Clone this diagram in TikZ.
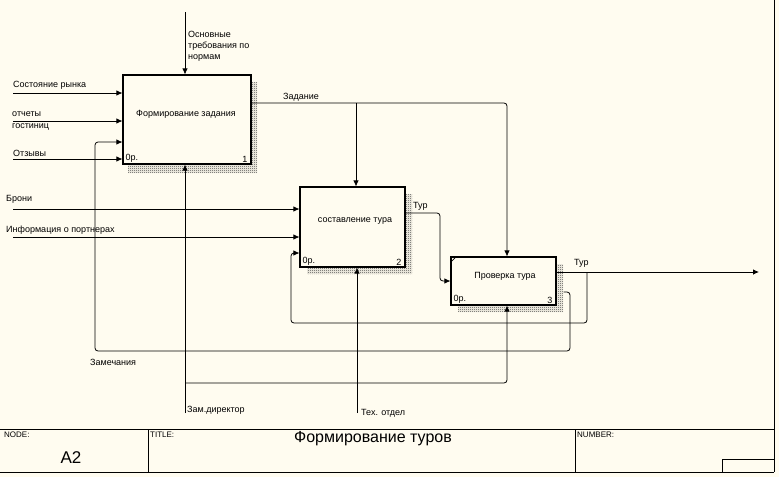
\documentclass[tikz,border=0pt]{standalone}
\usepackage{fontspec}
\setmainfont{Liberation Sans}
\usetikzlibrary{arrows.meta,patterns,patterns.meta,calc}
\definecolor{bg}{RGB}{255,252,240}
\pgfdeclarepattern{
  name=checkdots,
  type=uncolored,
  bottom left={\pgfpointorigin},
  top right={\pgfpoint{2pt}{2pt}},
  tile size={\pgfpoint{2pt}{2pt}},
  code={
    \pgfpathrectangle{\pgfpointorigin}{\pgfpoint{1pt}{1pt}}
    \pgfpathrectangle{\pgfpoint{1pt}{1pt}}{\pgfpoint{1pt}{1pt}}
    \pgfusepath{fill}
  }
}
\begin{document}
\begin{tikzpicture}[x=1pt,y=-1pt,
  box/.style={draw,line width=1.1pt,fill=bg,inner sep=0pt},
  shadowfill/.style={pattern=checkdots,pattern color=black!75},
  arr/.style={line width=0.8pt,-{Latex[length=6pt,width=5.5pt]},rounded corners=3pt},
  lbl/.style={font=\fontsize{9}{11}\selectfont,inner sep=0pt},
  frm/.style={line width=0.8pt}]
\fill[bg] (0,0) rectangle (779,477);
\useasboundingbox (0,0) rectangle (779,477);

% shadows
\fill[shadowfill] (251,82) -- (257,82) -- (257,173) -- (128,173) -- (128,164) -- (251,164) -- cycle;
\fill[shadowfill] (405,194) -- (412,194) -- (412,274) -- (307,274) -- (307,267) -- (405,267) -- cycle;
\fill[shadowfill] (556,264) -- (563,264) -- (563,312) -- (458,312) -- (458,305) -- (556,305) -- cycle;

% boxes
\node[box,minimum width=128pt,minimum height=89pt] (b1) at (187,119.5) {};
\node[box,minimum width=105pt,minimum height=80pt] (b2) at (352.5,227) {};
\node[box,minimum width=105pt,minimum height=48pt] (b3) at (503.5,281) {};
\draw[line width=0.6pt] ($(b3.north west)+(0,6)$) -- ($(b3.north west)+(6,0)$);

\node[lbl] (t1) at (186,114) {Формирование задания};
\node[lbl] (t2) at (355,221) {составление тура};
\node[lbl] (t3) at (505,276) {Проверка тура};
\node[lbl,anchor=south west] (n1) at ($(b1.south west)+(3,-2)$) {0р.};
\node[lbl,anchor=south east] (k1) at ($(b1.south east)+(-4,-2)$) {1};
\node[lbl,anchor=south west] (n2) at ($(b2.south west)+(3,-2)$) {0р.};
\node[lbl,anchor=south east] (k2) at ($(b2.south east)+(-4,-2)$) {2};
\node[lbl,anchor=south west] (n3) at ($(b3.south west)+(3,-2)$) {0р.};
\node[lbl,anchor=south east] (k3) at ($(b3.south east)+(-4,-2)$) {3};

% control
\coordinate (c1) at (185,12);
\draw[arr] (c1) -- (c1 |- b1.north);
\node[lbl,anchor=north west,align=left] (lc1) at (188,31) {Основные\\требования по\\нормам};

% inputs box 1
\coordinate (i1) at (13,93);
\coordinate (i2) at (13,121);
\coordinate (i3) at (13,159);
\draw[arr] (i1) -- (i1 -| b1.west);
\draw[arr] (i2) -- (i2 -| b1.west);
\draw[arr] (i3) -- (i3 -| b1.west);
\node[lbl,anchor=west] (li1) at (13,85) {Состояние рынка};
\node[lbl,anchor=west,align=left,font=\fontsize{9}{12}\selectfont] (li2) at (12,121) {отчеты\\гостиниц};
\node[lbl,anchor=west] (li3) at (13,153) {Отзывы};

% inputs box 2
\coordinate (i4) at (13,209);
\coordinate (i5) at (13,237);
\draw[arr] (i4) -- (i4 -| b2.west);
\draw[arr] (i5) -- (i5 -| b2.west);
\node[lbl,anchor=west] (li4) at (6,199) {Брони};
\node[lbl,anchor=west] (li5) at (6,230) {Информация о портнерах};

% Задание
\coordinate (z1) at (507,103);
\coordinate (z2) at (356,103);
\draw[arr] (b1.east |- z1) -- (z1) -- (z1 |- b3.north);
\draw[arr] (z2) -- (z2 |- b2.north);
\node[lbl,anchor=west] (lz) at (283,97) {Задание};

% Тур from box 2
\coordinate (t2a) at (440,213);
\draw[arr] (b2.east |- t2a) -- (t2a) -- (t2a |- b3.west) -- (b3.west);
\node[lbl,anchor=west] (lt2) at (413,206) {Тур};

% Тур from box 3
\coordinate (o3) at (759,272);
\draw[arr] (b3.east |- o3) -- (o3);
\node[lbl,anchor=west] (lt3) at (574,263) {Тур};

% feedback 1
\coordinate (f1) at (587,323);
\coordinate (f1b) at (291,253);
\draw[arr] (f1 |- o3) -- (f1) -- (f1b |- f1) -- (f1b) -- (f1b -| b2.west);

% feedback 2 (Замечания)
\coordinate (f2a) at (570,292);
\coordinate (f2b) at (95,351);
\coordinate (f2c) at (95,142);
\draw[arr] ($(b3.east |- f2a)+(7,0)$) -- (f2a) -- (f2a |- f2b) -- (f2b) -- (f2c) -- (f2c -| b1.west);
\node[lbl,anchor=west] (lf2) at (90,362) {Замечания};

% mechanisms
\coordinate (m1) at (185,413);
\coordinate (m1b) at (185,383);
\coordinate (m1c) at (507,383);
\draw[arr] (m1) -- (m1 |- b1.south);
\draw[arr] (m1b) -- (m1c) -- (m1c |- b3.south);
\node[lbl,anchor=west] (lm1) at (187,410) {Зам.директор};
\coordinate (m2) at (357,413);
\draw[arr] (m2) -- (m2 |- b2.south);
\node[lbl,anchor=west] (lm2) at (361,413) {Тех. отдел};

% frame / title block
\draw[frm] (774,0) -- (774,472);
\draw[frm] (0,429) -- (774,429);
\draw[frm] (0,472) -- (774,472);
\draw[frm] (148,429) -- (148,472);
\draw[frm] (575,429) -- (575,472);
\draw[frm] (722,472) -- (722,459) -- (774,459);
\node[lbl,anchor=west,font=\fontsize{8}{10}\selectfont] (hn) at (4,435) {NODE:};
\node[lbl,anchor=west,font=\fontsize{8}{10}\selectfont] (ht) at (150,435) {TITLE:};
\node[lbl,anchor=west,font=\fontsize{8}{10}\selectfont] (hnum) at (577,435) {NUMBER:};
\node[inner sep=0pt,font=\fontsize{17}{20}\selectfont] (a2) at (71,458) {A2};
\node[inner sep=0pt,font=\fontsize{16}{19}\selectfont] (title) at (373,439) {Формирование туров};
\end{tikzpicture}
\end{document}
